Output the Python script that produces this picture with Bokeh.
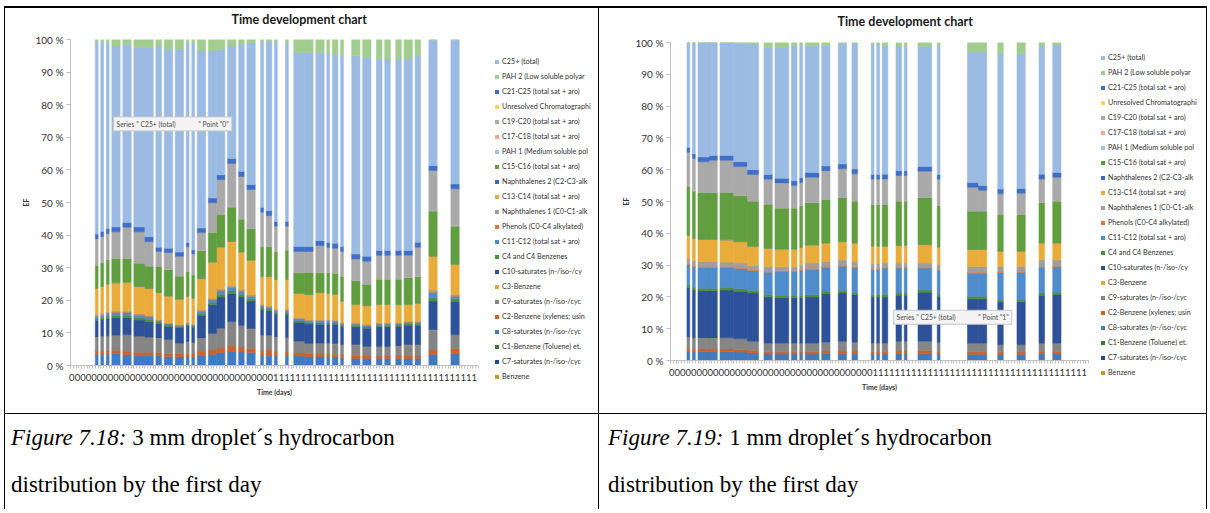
from bokeh.plotting import figure
from bokeh.models import ColumnDataSource, Range1d, FixedTicker, Legend, LegendItem, Label, Div, Title
from bokeh.layouts import column, row
from bokeh.embed import file_html
from bokeh.resources import INLINE

# ---------------- texts ----------------
chart_title = "Time development chart"
x_axis_title = "Time (days)"
y_axis_title = "EF"
y_tick_values = [0, 10, 20, 30, 40, 50, 60, 70, 80, 90, 100]
y_tick_labels = ["0 %", "10 %", "20 %", "30 %", "40 %", "50 %", "60 %", "70 %", "80 %", "90 %", "100 %"]
caption_1 = ("Figure 7.18:", "3 mm droplet\u00b4s hydrocarbon", "distribution by the first day")
caption_2 = ("Figure 7.19:", "1 mm droplet\u00b4s hydrocarbon", "distribution by the first day")

# legend order (as listed in the legend, top first)
legend_order = [
    "C25+ (total)", "PAH 2 (Low soluble polyar", "C21-C25 (total sat + aro)",
    "Unresolved Chromatographi", "C19-C20 (total sat + aro)", "C17-C18 (total sat + aro)",
    "PAH 1 (Medium soluble pol", "C15-C16 (total sat + aro)", "Naphthalenes 2 (C2-C3-alk",
    "C13-C14 (total sat + aro)", "Naphthalenes 1 (C0-C1-alk", "Phenols (C0-C4 alkylated)",
    "C11-C12 (total sat + aro)", "C4 and C4 Benzenes", "C10-saturates (n-/iso-/cy",
    "C3-Benzene", "C9-saturates (n-/iso-/cyc", "C2-Benzene (xylenes; usin",
    "C8-saturates (n-/iso-/cyc", "C1-Benzene (Toluene) et.", "C7-saturates (n-/iso-/cyc",
    "Benzene",
]
# stacking order, bottom first
stack_order = [
    "Benzene", "C7-saturates (n-/iso-/cyc", "C1-Benzene (Toluene) et.", "C8-saturates (n-/iso-/cyc",
    "C2-Benzene (xylenes; usin", "C9-saturates (n-/iso-/cyc", "C3-Benzene", "C10-saturates (n-/iso-/cy",
    "C4 and C4 Benzenes", "C11-C12 (total sat + aro)", "Phenols (C0-C4 alkylated)",
    "Naphthalenes 1 (C0-C1-alk", "C13-C14 (total sat + aro)", "Naphthalenes 2 (C2-C3-alk",
    "C15-C16 (total sat + aro)", "PAH 1 (Medium soluble pol", "C17-C18 (total sat + aro)",
    "C19-C20 (total sat + aro)", "Unresolved Chromatographi", "C21-C25 (total sat + aro)",
    "C25+ (total)", "PAH 2 (Low soluble polyar",
]

# ---------------- chart 1 (3 mm droplet) ----------------
c1_tick_labels = list("0000000000" "0000000000" "0000000000" "0000000"
                      "1111111111" "1111111111" "1111111111" "1111111")
# first / last time-sample index of each run of measured samples
c1_first = [9, 11, 13, 15, 19, 23, 27, 31, 34, 38, 42, 44, 46, 50, 53, 57, 61, 64, 69, 71,
            74, 78, 81, 85, 89, 93, 95, 98, 102, 106, 111, 114, 118, 121, 125, 130, 138]
c1_last = [9, 11, 13, 17, 21, 26, 29, 32, 36, 40, 42, 44, 48, 52, 55, 59, 62, 66, 69, 72,
           74, 78, 84, 87, 91, 93, 96, 98, 104, 108, 112, 115, 119, 123, 126, 132, 140]
c1_benzene = [0.05, 0.05, 0.05, 0.05, 0.05, 0.05, 0.05, 0.05, 0.05, 0.05, 0.05, 0.05, 0.05, 0.05, 0.05, 0.05, 0.05, 0.05, 0.05, 0.05,
              0.05, 0.05, 0.05, 0.05, 0.05, 0.05, 0.05, 0.05, 0.05, 0.05, 0.05, 0.05, 0.05, 0.05, 0.05, 0.05, 0.05]
c1_c7_sat = [0.05, 0.05, 0.05, 0.05, 0.05, 0.05, 0.05, 0.05, 0.05, 0.05, 0.05, 0.05, 0.05, 0.05, 0.05, 0.05, 0.05, 0.05, 0.05, 0.05,
             0.05, 0.05, 0.05, 0.05, 0.05, 0.05, 0.05, 0.05, 0.05, 0.05, 0.05, 0.05, 0.05, 0.05, 0.05, 0.05, 0.05]
c1_c1_benz = [0.05, 0.05, 0.05, 0.05, 0.05, 0.05, 0.05, 0.05, 0.05, 0.05, 0.05, 0.05, 0.05, 0.05, 0.05, 0.05, 0.05, 0.05, 0.05, 0.05,
              0.05, 0.05, 0.05, 0.05, 0.05, 0.05, 0.05, 0.05, 0.05, 0.05, 0.05, 0.05, 0.05, 0.05, 0.05, 0.05, 0.05]
c1_c8_sat = [3.2, 3.3, 3.4, 3.5, 3.2, 3.0, 3.0, 2.8, 2.5, 2.5, 2.6, 2.5, 3.0, 3.3, 3.8, 4.2, 4.0, 3.8, 3.0, 3.0,
             2.8, 2.8, 2.8, 2.6, 2.6, 2.6, 2.5, 2.2, 2.0, 2.0, 2.0, 2.0, 2.0, 2.0, 2.0, 3.2, 3.5]
c1_c2_benz = [1.0, 1.0, 1.0, 1.0, 1.0, 0.9, 0.9, 1.0, 1.0, 1.0, 1.0, 1.0, 1.2, 1.3, 1.4, 1.6, 1.5, 1.2, 1.4, 1.6,
              1.2, 1.2, 0.9, 0.9, 0.8, 0.8, 0.8, 0.9, 0.9, 0.8, 0.8, 0.8, 0.8, 0.8, 0.8, 1.4, 1.6]
c1_c9_sat = [4.3, 4.4, 4.5, 4.5, 5.0, 4.8, 4.5, 4.4, 4.2, 3.1, 3.4, 3.2, 4.0, 5.0, 6.0, 7.4, 6.5, 6.0, 4.6, 4.4,
             4.5, 4.3, 3.5, 3.0, 3.2, 3.2, 3.1, 3.0, 3.2, 2.8, 2.8, 2.8, 2.9, 3.3, 3.3, 6.1, 4.1]
c1_c3_benz = [0.1, 0.1, 0.1, 0.1, 0.1, 0.1, 0.1, 0.1, 0.1, 0.1, 0.1, 0.1, 0.1, 0.1, 0.1, 0.1, 0.1, 0.1, 0.1, 0.1,
              0.1, 0.1, 0.1, 0.1, 0.1, 0.1, 0.1, 0.1, 0.1, 0.1, 0.1, 0.1, 0.1, 0.1, 0.1, 0.1, 0.1]
c1_c10_sat = [5.0, 5.2, 5.3, 5.5, 5.2, 5.0, 4.8, 4.4, 4.0, 4.8, 5.0, 4.8, 7.0, 8.8, 9.6, 8.6, 8.8, 8.5, 8.0, 7.5,
              7.0, 7.2, 5.8, 6.0, 5.8, 5.8, 5.9, 5.6, 5.5, 5.6, 6.0, 6.0, 6.0, 6.0, 6.0, 8.8, 10.2]
c1_c4_benz = [0.6, 0.6, 0.7, 0.7, 0.8, 0.7, 0.7, 0.5, 0.5, 0.4, 0.4, 0.4, 0.6, 0.7, 0.8, 0.8, 0.8, 0.7, 0.6, 0.6,
              0.6, 0.6, 0.5, 0.5, 0.5, 0.5, 0.5, 0.5, 0.5, 0.5, 0.5, 0.5, 0.5, 0.5, 0.5, 1.0, 0.8]
c1_c11_c12 = [0.7, 0.7, 0.8, 0.8, 0.8, 0.8, 0.7, 0.4, 0.4, 0.3, 0.3, 0.3, 0.6, 0.8, 1.0, 1.0, 0.9, 0.8, 0.5, 0.5,
              0.5, 0.5, 0.5, 0.4, 0.5, 0.5, 0.5, 0.4, 0.4, 0.4, 0.4, 0.4, 0.4, 0.4, 0.4, 1.6, 0.8]
c1_phenols = [0.3, 0.3, 0.3, 0.3, 0.3, 0.3, 0.3, 0.2, 0.1, 0.1, 0.1, 0.1, 0.2, 0.3, 0.3, 0.3, 0.3, 0.3, 0.2, 0.2,
              0.2, 0.2, 0.2, 0.2, 0.2, 0.2, 0.2, 0.2, 0.2, 0.1, 0.2, 0.2, 0.2, 0.2, 0.2, 0.4, 0.3]
c1_naph1 = [0.2, 0.2, 0.2, 0.2, 0.2, 0.2, 0.2, 0.1, 0.1, 0.1, 0.1, 0.1, 0.2, 0.2, 0.3, 0.3, 0.3, 0.2, 0.2, 0.2,
            0.2, 0.2, 0.2, 0.2, 0.2, 0.2, 0.2, 0.1, 0.1, 0.1, 0.1, 0.1, 0.1, 0.1, 0.1, 0.5, 0.2]
c1_c13_c14 = [8.0, 8.2, 8.4, 8.5, 8.7, 8.3, 8.2, 8.2, 8.2, 7.7, 8.0, 7.8, 9.5, 11.0, 12.8, 13.5, 11.4, 10.5, 8.5, 9.0,
              9.0, 9.0, 7.4, 7.6, 8.2, 8.0, 7.8, 6.5, 5.6, 5.7, 5.6, 5.6, 5.4, 5.1, 5.5, 10.2, 9.2]
c1_naph2 = [0.1, 0.1, 0.1, 0.1, 0.1, 0.1, 0.1, 0.1, 0.1, 0.1, 0.1, 0.1, 0.1, 0.1, 0.1, 0.1, 0.1, 0.1, 0.1, 0.1,
            0.1, 0.1, 0.1, 0.1, 0.1, 0.1, 0.1, 0.1, 0.1, 0.1, 0.1, 0.1, 0.1, 0.1, 0.1, 0.1, 0.1]
c1_c15_c16 = [7.0, 7.2, 7.4, 7.5, 7.2, 7.0, 6.8, 8.0, 8.0, 7.0, 7.5, 7.2, 8.5, 9.0, 10.0, 10.5, 10.0, 9.5, 9.0, 9.0,
              8.5, 9.0, 6.2, 6.8, 6.0, 6.2, 6.4, 7.5, 7.2, 6.5, 7.6, 7.6, 7.8, 8.2, 8.0, 13.8, 11.7]
c1_pah1 = [0.05, 0.05, 0.05, 0.05, 0.05, 0.05, 0.05, 0.05, 0.05, 0.05, 0.05, 0.05, 0.05, 0.05, 0.05, 0.05, 0.05, 0.05, 0.05, 0.05,
           0.05, 0.05, 0.05, 0.05, 0.05, 0.05, 0.05, 0.05, 0.05, 0.05, 0.05, 0.05, 0.05, 0.05, 0.05, 0.05, 0.05]
c1_c17_c18 = [0.05, 0.05, 0.05, 0.05, 0.05, 0.05, 0.05, 0.05, 0.05, 0.05, 0.05, 0.05, 0.05, 0.05, 0.05, 0.05, 0.05, 0.05, 0.05, 0.05,
              0.05, 0.05, 0.05, 0.05, 0.05, 0.05, 0.05, 0.05, 0.05, 0.05, 0.05, 0.05, 0.05, 0.05, 0.05, 0.05, 0.05]
c1_c19_c20 = [8.0, 8.0, 8.0, 8.0, 9.5, 9.5, 7.4, 4.5, 5.2, 6.0, 7.5, 6.3, 5.5, 9.0, 10.5, 13.3, 13.0, 12.0, 10.5, 9.5,
              7.7, 7.2, 6.5, 6.3, 8.3, 7.7, 7.6, 7.6, 6.6, 7.0, 7.3, 7.3, 7.2, 6.7, 9.0, 12.3, 11.3]
c1_unresolved = [0.05, 0.05, 0.05, 0.05, 0.05, 0.05, 0.05, 0.05, 0.05, 0.05, 0.05, 0.05, 0.05, 0.05, 0.05, 0.05, 0.05, 0.05, 0.05, 0.05,
                 0.05, 0.05, 0.05, 0.05, 0.05, 0.05, 0.05, 0.05, 0.05, 0.05, 0.05, 0.05, 0.05, 0.05, 0.05, 0.05, 0.05]
c1_c21_c25 = [1.5, 1.5, 1.5, 1.5, 1.5, 1.5, 1.5, 1.3, 1.3, 1.3, 1.3, 1.3, 1.4, 1.5, 1.5, 1.5, 1.5, 1.5, 1.5, 1.5,
              1.5, 1.5, 1.5, 1.5, 1.5, 1.5, 1.5, 1.5, 1.5, 1.5, 1.5, 1.5, 1.5, 1.5, 1.5, 1.5, 1.5]
c1_c25plus = [59.2, 58.4, 57.0, 55.5, 54.6, 55.0, 58.0, 61.7, 61.0, 62.2, 61.3, 63.5, 54.3, 45.1, 38.5, 34.5, 39.0, 43.5, 51.0, 52.0,
              55.3, 54.8, 59.5, 59.5, 57.7, 58.3, 58.0, 58.5, 60.8, 61.0, 58.7, 58.7, 58.7, 58.7, 57.2, 38.5, 44.1]
c1_pah2 = [0.5, 0.5, 1.0, 2.0, 1.5, 2.5, 2.5, 2.0, 3.0, 3.0, 1.0, 1.0, 3.5, 3.5, 3.0, 2.0, 1.5, 1.0, 0.5, 0.5,
           0.5, 1.0, 4.0, 4.0, 4.0, 4.0, 4.5, 5.0, 5.0, 5.5, 6.0, 6.0, 6.0, 6.0, 5.0, 0.2, 0.2]

# ---------------- chart 2 (1 mm droplet) ----------------
c2_tick_labels = list("0000000000" "0000000000" "0000000000" "0000000"
                      "1111111111" "1111111111" "1111111111" "111111111")
c2_first = [6, 8, 10, 14, 18, 23, 28, 34, 38, 44, 47, 49, 55, 61, 66, 73, 75, 77, 82, 85,
            90, 97, 108, 112, 119, 126, 134, 139]
c2_last = [6, 8, 13, 16, 22, 27, 31, 36, 42, 45, 47, 53, 57, 63, 67, 73, 75, 78, 83, 85,
           94, 97, 111, 114, 120, 128, 135, 141]
c2_benzene = [0.05, 0.05, 0.05, 0.05, 0.05, 0.05, 0.05, 0.05, 0.05, 0.05, 0.05, 0.05, 0.05, 0.05,
              0.05, 0.05, 0.05, 0.05, 0.05, 0.05, 0.05, 0.05, 0.05, 0.05, 0.05, 0.05, 0.05, 0.05]
c2_c7_sat = [0.05, 0.05, 0.05, 0.05, 0.05, 0.05, 0.05, 0.05, 0.05, 0.05, 0.05, 0.05, 0.05, 0.05,
             0.05, 0.05, 0.05, 0.05, 0.05, 0.05, 0.05, 0.05, 0.05, 0.05, 0.05, 0.05, 0.05, 0.05]
c2_c1_benz = [0.05, 0.05, 0.05, 0.05, 0.05, 0.05, 0.05, 0.05, 0.05, 0.05, 0.05, 0.05, 0.05, 0.05,
              0.05, 0.05, 0.05, 0.05, 0.05, 0.05, 0.05, 0.05, 0.05, 0.05, 0.05, 0.05, 0.05, 0.05]
c2_c8_sat = [2.6, 2.6, 2.6, 2.6, 2.6, 2.5, 2.2, 1.9, 1.9, 1.9, 1.9, 1.9, 2.0, 2.0,
             2.0, 1.9, 1.9, 1.9, 2.0, 2.0, 2.0, 1.9, 1.8, 1.8, 1.8, 1.8, 2.0, 2.0]
c2_c2_benz = [1.0, 0.9, 0.9, 0.9, 0.9, 0.8, 0.8, 0.7, 0.7, 0.7, 0.7, 0.7, 0.8, 0.8,
              0.8, 0.7, 0.7, 0.7, 0.8, 0.8, 0.9, 0.8, 0.8, 0.8, 0.8, 0.8, 0.7, 0.7]
c2_c9_sat = [3.5, 3.4, 3.3, 3.3, 3.4, 3.3, 2.8, 2.6, 2.6, 2.6, 2.6, 2.6, 2.7, 3.0,
             2.7, 2.6, 2.6, 2.6, 3.0, 3.0, 2.9, 2.7, 2.6, 2.6, 2.1, 2.1, 2.5, 2.5]
c2_c3_benz = [0.1, 0.1, 0.1, 0.1, 0.1, 0.1, 0.1, 0.1, 0.1, 0.1, 0.1, 0.1, 0.1, 0.1,
              0.1, 0.1, 0.1, 0.1, 0.1, 0.1, 0.1, 0.1, 0.1, 0.1, 0.1, 0.1, 0.1, 0.1]
c2_c10_sat = [15.5, 15.0, 14.9, 14.9, 15.0, 14.9, 15.2, 14.6, 14.3, 14.3, 14.4, 14.5, 15.2, 15.2,
              15.0, 14.5, 14.5, 14.5, 14.5, 14.5, 15.4, 14.5, 13.9, 13.9, 13.5, 13.5, 15.0, 15.3]
c2_c4_benz = [0.9, 0.8, 0.8, 0.8, 0.8, 0.8, 0.8, 0.7, 0.7, 0.7, 0.7, 0.7, 0.8, 0.8,
              0.6, 0.7, 0.7, 0.7, 0.7, 0.7, 0.8, 0.7, 0.8, 0.8, 0.6, 0.6, 0.8, 0.7]
c2_c11_c12 = [6.4, 6.5, 6.5, 6.5, 6.3, 6.4, 6.2, 7.0, 7.5, 7.5, 7.7, 8.0, 7.6, 7.6,
              7.8, 8.0, 8.0, 8.4, 7.8, 7.8, 6.8, 7.5, 7.3, 7.3, 8.6, 8.6, 8.0, 8.0]
c2_phenols = [0.3, 0.3, 0.3, 0.3, 0.3, 0.3, 0.3, 0.3, 0.3, 0.3, 0.3, 0.3, 0.3, 0.3,
              0.3, 0.3, 0.3, 0.3, 0.3, 0.3, 0.3, 0.3, 0.3, 0.3, 0.3, 0.3, 0.3, 0.3]
c2_naph1 = [1.6, 1.6, 1.6, 1.6, 1.4, 1.4, 1.2, 1.5, 1.2, 1.2, 1.4, 1.7, 1.5, 1.7,
            1.7, 1.5, 1.5, 1.3, 1.3, 1.3, 1.3, 1.5, 1.8, 1.8, 1.6, 1.6, 2.1, 1.9]
c2_c13_c14 = [7.2, 6.9, 6.8, 6.8, 6.9, 6.6, 6.1, 5.7, 5.5, 5.5, 5.5, 5.6, 5.7, 5.6,
              5.7, 5.4, 5.4, 5.2, 5.4, 5.4, 5.7, 5.4, 5.3, 5.3, 4.7, 4.7, 5.2, 5.2]
c2_naph2 = [0.1, 0.1, 0.1, 0.1, 0.1, 0.1, 0.1, 0.1, 0.1, 0.1, 0.1, 0.1, 0.1, 0.1,
            0.1, 0.1, 0.1, 0.1, 0.1, 0.1, 0.1, 0.1, 0.1, 0.1, 0.1, 0.1, 0.1, 0.1]
c2_c15_c16 = [15.4, 14.9, 14.7, 14.7, 14.9, 14.4, 14.1, 13.7, 12.8, 12.8, 13.0, 13.2, 13.7, 13.8,
              13.1, 13.0, 13.0, 13.1, 13.9, 13.9, 14.7, 13.0, 12.0, 12.0, 11.5, 11.5, 12.6, 13.1]
c2_pah1 = [0.05, 0.05, 0.05, 0.05, 0.05, 0.05, 0.05, 0.05, 0.05, 0.05, 0.05, 0.05, 0.05, 0.05,
           0.05, 0.05, 0.05, 0.05, 0.05, 0.05, 0.05, 0.05, 0.05, 0.05, 0.05, 0.05, 0.05, 0.05]
c2_c17_c18 = [0.05, 0.05, 0.05, 0.05, 0.05, 0.05, 0.05, 0.05, 0.05, 0.05, 0.05, 0.05, 0.05, 0.05,
              0.05, 0.05, 0.05, 0.05, 0.05, 0.05, 0.05, 0.05, 0.05, 0.05, 0.05, 0.05, 0.05, 0.05]
c2_c19_c20 = [10.6, 10.1, 9.6, 10.1, 10.0, 9.1, 8.3, 7.8, 7.8, 7.0, 7.3, 7.9, 8.9, 9.0,
              8.5, 7.9, 7.9, 7.9, 8.0, 8.0, 8.2, 8.2, 7.4, 6.4, 6.4, 6.6, 7.4, 7.4]
c2_unresolved = [0.05, 0.05, 0.05, 0.05, 0.05, 0.05, 0.05, 0.05, 0.05, 0.05, 0.05, 0.05, 0.05, 0.05,
                 0.05, 0.05, 0.05, 0.05, 0.05, 0.05, 0.05, 0.05, 0.05, 0.05, 0.05, 0.05, 0.05, 0.05]
c2_c21_c25 = [1.5, 1.5, 1.5, 1.5, 1.5, 1.5, 1.5, 1.5, 1.5, 1.5, 1.5, 1.5, 1.5, 1.5,
              1.5, 1.5, 1.5, 1.5, 1.5, 1.5, 1.5, 1.5, 1.5, 1.5, 1.5, 1.5, 1.5, 1.5]
c2_c25plus = [33.0, 35.0, 36.0, 35.5, 35.5, 37.3, 39.5, 40.0, 41.2, 42.5, 42.0, 39.9, 37.8, 37.9,
              39.5, 41.0, 41.0, 40.4, 39.1, 39.1, 37.8, 40.5, 41.0, 42.0, 42.6, 42.4, 40.4, 40.1]
c2_pah2 = [0.0, 0.0, 0.0, 0.0, 0.0, 0.2, 0.5, 1.5, 1.5, 1.0, 0.5, 1.0, 1.0, 0.3,
           0.3, 0.5, 0.5, 1.0, 1.2, 1.2, 1.2, 1.0, 3.0, 3.0, 3.5, 3.5, 1.0, 0.8]

# ---------------- styling ----------------
series_colors = {
    "C25+ (total)": "#9BBBE3", "PAH 2 (Low soluble polyar": "#A3CC8F",
    "C21-C25 (total sat + aro)": "#3F6FC8", "Unresolved Chromatographi": "#FFD35C",
    "C19-C20 (total sat + aro)": "#A9A9A9", "C17-C18 (total sat + aro)": "#F2A98A",
    "PAH 1 (Medium soluble pol": "#9DC3E6", "C15-C16 (total sat + aro)": "#609E40",
    "Naphthalenes 2 (C2-C3-alk": "#3A6CC6", "C13-C14 (total sat + aro)": "#E9AC3B",
    "Naphthalenes 1 (C0-C1-alk": "#9E9E9E", "Phenols (C0-C4 alkylated)": "#E5773A",
    "C11-C12 (total sat + aro)": "#4E8CCB", "C4 and C4 Benzenes": "#4F8E3A",
    "C10-saturates (n-/iso-/cy": "#2D5299", "C3-Benzene": "#E8A33A",
    "C9-saturates (n-/iso-/cyc": "#858585", "C2-Benzene (xylenes; usin": "#CE6129",
    "C8-saturates (n-/iso-/cyc": "#3F7BBE", "C1-Benzene (Toluene) et.": "#3E7A2E",
    "C7-saturates (n-/iso-/cyc": "#254A92", "Benzene": "#C49A2C",
}
FONT = "Lato"
TEXT = "#333333"
AXIS = "#BFBFBF"


def values_of(b, c7, c1, c8, c2b, c9, c3, c10, c4, c11, ph, n1, c13, n2, c15, p1, c17, c19, un, c21, c25, p2):
    return dict(zip(stack_order, [b, c7, c1, c8, c2b, c9, c3, c10, c4, c11, ph, n1, c13, n2, c15, p1, c17,
                                  c19, un, c21, c25, p2]))


c1_values = values_of(c1_benzene, c1_c7_sat, c1_c1_benz, c1_c8_sat, c1_c2_benz, c1_c9_sat, c1_c3_benz,
                      c1_c10_sat, c1_c4_benz, c1_c11_c12, c1_phenols, c1_naph1, c1_c13_c14, c1_naph2,
                      c1_c15_c16, c1_pah1, c1_c17_c18, c1_c19_c20, c1_unresolved, c1_c21_c25, c1_c25plus, c1_pah2)
c2_values = values_of(c2_benzene, c2_c7_sat, c2_c1_benz, c2_c8_sat, c2_c2_benz, c2_c9_sat, c2_c3_benz,
                      c2_c10_sat, c2_c4_benz, c2_c11_c12, c2_phenols, c2_naph1, c2_c13_c14, c2_naph2,
                      c2_c15_c16, c2_pah1, c2_c17_c18, c2_c19_c20, c2_unresolved, c2_c21_c25, c2_c25plus, c2_pah2)


def make_chart(first, last, values, tick_labels, width, height, borders, title_offset, spacer_size,
               tip_xy, tip_point):
    n_cat = 2 * len(tick_labels)
    totals = [sum(values[name][i] for name in stack_order) for i in range(len(first))]
    data = {"x": [(a + b + 1) / 2 for a, b in zip(first, last)],
            "w": [b - a + 1 for a, b in zip(first, last)]}
    for name in stack_order:
        data[name] = [v / t * 100 for v, t in zip(values[name], totals)]
    src = ColumnDataSource(data)

    p = figure(width=width, height=height, x_range=Range1d(0, n_cat), y_range=Range1d(0, 100),
               toolbar_location=None, tools="", output_backend="svg", title=None,
               min_border_left=borders[0], min_border_right=borders[1],
               min_border_top=borders[2], min_border_bottom=borders[3])
    p.background_fill_color = "white"
    p.border_fill_color = "white"
    p.outline_line_color = None
    p.xgrid.visible = False
    p.ygrid.visible = False

    outline = [series_colors[n] if max(values[n]) > 0.2 else None for n in stack_order]
    p.vbar_stack(stack_order, x="x", width="w", source=src,
                 fill_color=[series_colors[n] for n in stack_order],
                 line_color=outline, line_width=0.6)

    # spacer title (closest to the frame), then the visible title above it
    p.add_layout(Title(text=" ", text_font_size=spacer_size, standoff=0), "above")
    p.add_layout(Title(text=chart_title, text_font=FONT, text_font_size="12.5px",
                       text_font_style="bold", text_color="#1a1a1a", align="left",
                       offset=title_offset, standoff=2), "above")

    xa = p.xaxis[0]
    xa.ticker = FixedTicker(ticks=[2 * k + 0.5 for k in range(len(tick_labels))],
                            minor_ticks=list(range(n_cat + 1)))
    xa.major_label_overrides = {2 * k + 0.5: lab for k, lab in enumerate(tick_labels)}
    xa.major_tick_in = 0
    xa.major_tick_out = 0
    xa.minor_tick_in = 0
    xa.minor_tick_out = 3
    xa.minor_tick_line_color = AXIS
    xa.axis_line_color = AXIS
    xa.major_label_text_font = FONT
    xa.major_label_text_font_size = "9.5px"
    xa.major_label_text_color = TEXT
    xa.major_label_standoff = 5
    xa.axis_label = x_axis_title
    xa.axis_label_text_font = FONT
    xa.axis_label_text_font_size = "7px"
    xa.axis_label_text_font_style = "bold"
    xa.axis_label_text_color = TEXT
    xa.axis_label_standoff = 4

    ya = p.yaxis[0]
    ya.ticker = FixedTicker(ticks=y_tick_values, minor_ticks=[])
    ya.major_label_overrides = dict(zip(y_tick_values, y_tick_labels))
    ya.major_tick_in = 0
    ya.major_tick_out = 4
    ya.major_tick_line_color = AXIS
    ya.minor_tick_line_color = None
    ya.axis_line_color = AXIS
    ya.major_label_text_font = FONT
    ya.major_label_text_font_size = "10px"
    ya.major_label_text_color = TEXT
    ya.major_label_standoff = 3
    ya.axis_label = y_axis_title
    ya.axis_label_text_font = FONT
    ya.axis_label_text_font_size = "7px"
    ya.axis_label_text_font_style = "bold"
    ya.axis_label_text_color = TEXT
    ya.axis_label_standoff = 3

    tip_text = 'Series " ' + legend_order[0] + "\u00a0" * 13 + '" Point "' + tip_point + '"'
    p.add_layout(Label(x=tip_xy[0], y=tip_xy[1], text=tip_text, text_font=FONT,
                       text_font_size="6.8px", text_color="#4d4d4d", text_baseline="middle",
                       background_fill_color="#F4F4F4", border_line_color="#C8C8C8", padding=3))
    return p


def make_legend(width, height, loc):
    q = figure(width=width, height=height, x_range=Range1d(0, 1), y_range=Range1d(0, 1),
               x_axis_type=None, y_axis_type=None, toolbar_location=None, tools="",
               output_backend="svg", title=None, min_border=0)
    q.outline_line_color = None
    q.background_fill_color = "white"
    q.border_fill_color = "white"
    items = []
    for n in legend_order:
        # swatch carrier: one undrawn (NaN) bar, only used for the legend key
        swatch = q.vbar(x=[float("nan")], top=[float("nan")], width=1,
                        fill_color=series_colors[n], line_color=None)
        items.append(LegendItem(label=n, renderers=[swatch]))
    leg = Legend(items=items, location=loc, glyph_width=5, glyph_height=5,
                 label_height=12, label_width=10, spacing=3, label_standoff=3,
                 padding=0, margin=0, border_line_color=None, background_fill_alpha=0,
                 label_text_font=FONT, label_text_font_size="7.2px", label_text_color=TEXT)
    q.add_layout(leg)
    return q


p1 = make_chart(c1_first, c1_last, c1_values, c1_tick_labels, 479, 405, (65, 6, 31, 48), 161, "8.5px",
                (15.6, 74.1), "0")
l1 = make_legend(114, 405, (10, 31))
p2 = make_chart(c2_first, c2_last, c2_values, c2_tick_labels, 495, 405, (71, 6, 34, 53), 167, "10px",
                (81.1, 13.6), "1")
l2 = make_legend(112, 405, (6, 35))


def caption_div(cap, width, pad):
    html = ('<div style="font-family:\'Liberation Serif\',\'Times New Roman\',serif;font-size:23px;'
            'line-height:47px;padding-left:%dpx;color:#000;white-space:nowrap;margin:0">'
            '<i>%s</i> %s<br>%s</div>' % (pad, cap[0], cap[1], cap[2]))
    return Div(text=html, width=width, height=95, margin=0)


def line_div(w, h):
    return Div(text="", width=w, height=h, margin=0, styles={"background-color": "#000000"})


layout = column(
    line_div(1203, 2),
    row(line_div(1, 405), column(p1), column(l1), line_div(1, 405),
        column(p2), column(l2), line_div(1, 405)),
    line_div(1203, 1),
    row(line_div(1, 95), caption_div(caption_1, 593, 6), line_div(1, 95),
        caption_div(caption_2, 607, 9), line_div(1, 95)),
    margin=(6, 0, 0, 4),
)

open("out.html", "w").write(file_html(layout, INLINE))
